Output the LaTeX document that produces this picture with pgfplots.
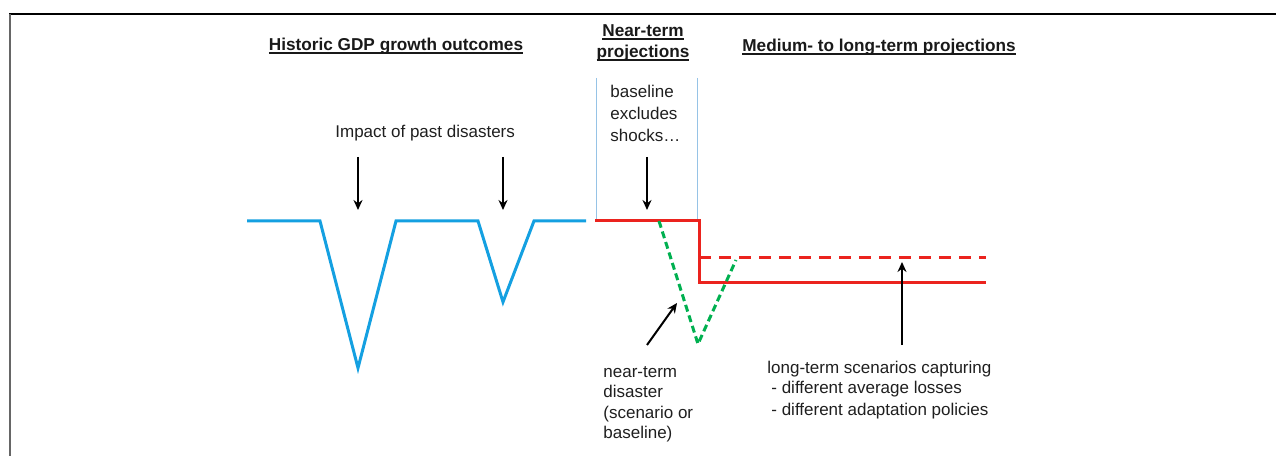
\documentclass[border=0pt]{standalone}
\usepackage{pgfplots}
\pgfplotsset{compat=1.18}
\usetikzlibrary{arrows.meta}
\usepackage{fontspec}
\setmainfont{Liberation Sans}
\definecolor{histblue}{RGB}{20,160,225}
\definecolor{projred}{RGB}{235,35,30}
\definecolor{scgreen}{RGB}{0,176,80}
\definecolor{boxblue}{RGB}{150,195,230}
\newcommand\ul[1]{\setbox0=\hbox{#1}\rlap{\rule[-1.5pt]{\wd0}{0.75pt}}\box0}
\tikzset{txt/.style={font=\fontsize{8.5}{10.2}\selectfont, inner sep=0pt, text=black!88},
         hdr/.style={font=\fontsize{8.6}{10.2}\selectfont\bfseries, inner sep=0pt, text=black!90}}
\begin{document}
\begin{tikzpicture}
\begin{axis}[
  width=638pt, height=228pt, scale only axis,
  xmin=0, xmax=1276, ymin=0, ymax=456,
  hide axis, clip=false,
]
% frame
\draw[line width=1.3pt, black] (axis cs:9,442) -- (axis cs:1276,442);
\draw[line width=1pt, black!60] (axis cs:9.5,442) -- (axis cs:9.5,0);
% near-term box lines
\addplot[boxblue, line width=0.5pt] coordinates {(596,378) (596,235)};
\addplot[boxblue, line width=0.5pt] coordinates {(697,378) (697,235)};
% historic GDP growth
\addplot[histblue, line width=1.5pt, line join=miter] coordinates {
 (247,235) (320,235) (358,88) (396,235) (478,235) (503,154) (534,235) (586,235)};
% baseline projection
\addplot[projred, line width=1.5pt] coordinates {(595,235) (699,235) (699,173) (986,173)};
\addplot[projred, line width=1.5pt, dash pattern=on 6pt off 4pt] coordinates {(699,198) (986,198)};
% near-term disaster
\addplot[scgreen, line width=1.5pt, dash pattern=on 3.5pt off 2pt] coordinates {(659,235) (698,112) (736,196)};
% arrows
\draw[line width=1pt, -{Stealth[length=5pt,width=4.5pt]}] (axis cs:358,299) -- (axis cs:358,246);
\draw[line width=1pt, -{Stealth[length=5pt,width=4.5pt]}] (axis cs:503,299) -- (axis cs:503,246);
\draw[line width=1pt, -{Stealth[length=5pt,width=4.5pt]}] (axis cs:647,299) -- (axis cs:647,246);
\draw[line width=1pt, -{Stealth[length=5pt,width=4.5pt]}] (axis cs:647,111) -- (axis cs:677,153);
\draw[line width=1pt, -{Stealth[length=5pt,width=4.5pt]}] (axis cs:902,111) -- (axis cs:902,194);
% headings
\node[hdr, anchor=base] at (axis cs:396,405) {\ul{Historic GDP growth outcomes}};
\node[hdr, anchor=base] at (axis cs:643,419) {\ul{Near-term}};
\node[hdr, anchor=base] at (axis cs:643,398) {\ul{projections}};
\node[hdr, anchor=base] at (axis cs:879,404) {\ul{Medium- to long-term projections}};
% annotations
\node[txt, anchor=base west] at (axis cs:610,358) {baseline};
\node[txt, anchor=base west] at (axis cs:610,336) {excludes};
\node[txt, anchor=base west] at (axis cs:610,314) {shocks…};
\node[txt, anchor=base west] at (axis cs:335,318) {Impact of past disasters};
\node[txt, anchor=base west] at (axis cs:603,79) {near-term};
\node[txt, anchor=base west] at (axis cs:603,59) {disaster};
\node[txt, anchor=base west] at (axis cs:603,38) {(scenario or};
\node[txt, anchor=base west] at (axis cs:603,18) {baseline)};
\node[txt, anchor=base west] at (axis cs:767,83) {long-term scenarios capturing};
\node[txt, anchor=base west] at (axis cs:771,62) {- different average losses};
\node[txt, anchor=base west] at (axis cs:771,41) {- different adaptation policies};
\end{axis}
\pgfresetboundingbox
\path (current axis.south west) rectangle (current axis.north east);
\end{tikzpicture}
\end{document}
